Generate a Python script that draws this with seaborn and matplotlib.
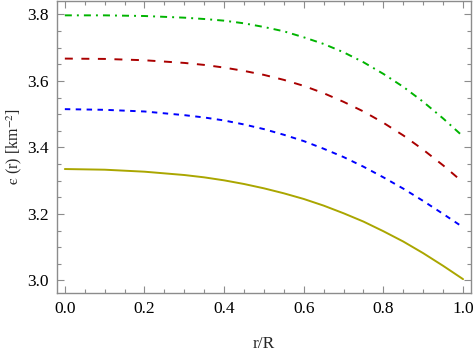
"""Perfil de densidad de energía epsilon(r) frente a r/R para cuatro modelos."""

import matplotlib

matplotlib.use("Agg")
import matplotlib.pyplot as plt
import pandas as pd
import seaborn as sns
from matplotlib.ticker import FormatStrFormatter, MultipleLocator

# valores
r_over_R = [0.0, 0.1, 0.2, 0.3, 0.35, 0.4, 0.45, 0.5, 0.55, 0.6,
            0.65, 0.7, 0.75, 0.8, 0.85, 0.9, 0.95, 1.0]
eps_green = [3.797, 3.797, 3.795, 3.790, 3.786, 3.781, 3.773, 3.762, 3.749, 3.731,
             3.711, 3.686, 3.656, 3.621, 3.582, 3.537, 3.487, 3.433]
eps_red = [3.667, 3.666, 3.662, 3.654, 3.648, 3.640, 3.630, 3.618, 3.603, 3.585,
           3.563, 3.537, 3.508, 3.474, 3.436, 3.393, 3.346, 3.295]
eps_blue = [3.515, 3.513, 3.508, 3.497, 3.490, 3.481, 3.469, 3.455, 3.438, 3.419,
            3.396, 3.371, 3.342, 3.310, 3.276, 3.239, 3.200, 3.160]
eps_olive = [3.335, 3.333, 3.327, 3.317, 3.310, 3.301, 3.290, 3.277, 3.262, 3.245,
             3.225, 3.202, 3.177, 3.148, 3.117, 3.082, 3.044, 3.004]

sns.set_style("ticks")
plt.rcParams["font.family"] = ["Liberation Serif", "DejaVu Serif"]
plt.rcParams["mathtext.fontset"] = "stix"

frame_color = "#8c8c8c"

fig = plt.figure(figsize=(4.74, 3.54), dpi=100)
ax = fig.add_axes([0.120, 0.172, 0.8737, 0.826])

series = [
    (eps_green, "#00b400", (0, (3.6, 2.6, 1.0, 2.6))),
    (eps_red, "#aa0000", (0, (4.1, 4.4))),
    (eps_blue, "#0000ff", (0, (2.8, 2.8))),
    (eps_olive, "#aaa600", "-"),
]
for values, color, ls in series:
    df = pd.DataFrame({"r": r_over_R, "eps": values})
    sns.lineplot(data=df, x="r", y="eps", ax=ax, color=color, linestyle=ls, linewidth=1.4)

ax.set_xlim(-0.02, 1.02)
ax.set_ylim(2.962, 3.841)
ax.xaxis.set_major_locator(MultipleLocator(0.2))
ax.xaxis.set_minor_locator(MultipleLocator(0.05))
ax.yaxis.set_major_locator(MultipleLocator(0.2))
ax.yaxis.set_minor_locator(MultipleLocator(0.05))
ax.xaxis.set_major_formatter(FormatStrFormatter("%.1f"))
ax.yaxis.set_major_formatter(FormatStrFormatter("%.1f"))

ax.tick_params(which="both", direction="in", top=True, right=True, color=frame_color,
               labelsize=12.5, labelcolor="black", width=0.8)
ax.tick_params(which="major", length=5, pad=6)
ax.tick_params(which="minor", length=2.8)
for spine in ax.spines.values():
    spine.set_visible(True)
    spine.set_color(frame_color)
    spine.set_linewidth(1.0)

ax.set_xlabel("r/R", fontsize=12.5, labelpad=13)
ax.set_ylabel(r"$\mathrm{ϵ}$ (r) [km$^{-2}$]", fontsize=11.5, labelpad=2)

fig.savefig("out.png", dpi=100)
plt.close(fig)
